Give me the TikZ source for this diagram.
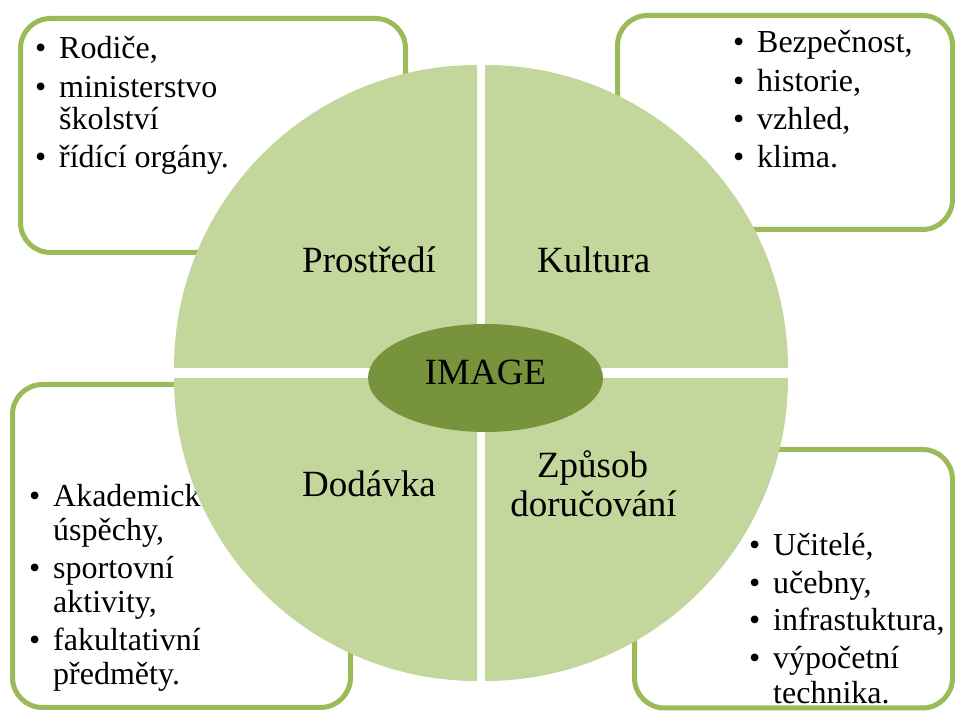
\documentclass[tikz,border=0pt]{standalone}
\usepackage{fontspec}
\setmainfont{Liberation Serif}
\usetikzlibrary{shapes.geometric}
\definecolor{boxgreen}{HTML}{9BBB59}
\definecolor{quadgreen}{HTML}{C3D69B}
\definecolor{hubgreen}{HTML}{77933C}
\newlength\bulind
\setlength\bulind{24pt}
\newlength\itemgap
\newcommand\bfirst[1]{\hbox{\makebox[\bulind][l]{\textbullet}#1}}
\newcommand\bcont[1]{\hbox{\hskip\bulind #1}}
\newcommand\bsep{\vskip\itemgap}
\tikzset{
  infobox/.style={draw=boxgreen, line width=5pt, fill=white, rounded corners=30pt, rectangle, inner sep=0pt},
  listtext/.style={inner sep=0pt, anchor=base west, font=\fontsize{32}{32}\selectfont},
  quad/.style={fill=quadgreen},
  label/.style={inner sep=0pt, font=\fontsize{37}{39}\selectfont},
  hub/.style={ellipse, fill=hubgreen, inner sep=0pt, minimum width=235pt, minimum height=108pt, text height=23pt, text depth=9pt, font=\fontsize{37}{39}\selectfont}
}
\begin{document}
\begin{tikzpicture}[x=1pt,y=1pt]
\useasboundingbox (0,0) rectangle (955,711);
% outer boxes
\node (tlbox) [infobox, minimum width=385pt, minimum height=234pt] at (213,575.5) {};
\node (trbox) [infobox, minimum width=335pt, minimum height=214pt] at (785,588.5) {};
\node (blbox) [infobox, minimum width=338pt, minimum height=323pt] at (181.5,165) {};
\node (brbox) [infobox, minimum width=318pt, minimum height=258.5pt] at (793.5,132.25) {};
% lists
\node (tllist) [listtext] at (35,652) {\vtop{\baselineskip=32pt\setlength\itemgap{6.5pt}%
  \bfirst{Rodiče,}\bsep\bfirst{ministerstvo}\bcont{školství}\bsep\bfirst{řídící orgány.}}};
\node (trlist) [listtext] at (733,658) {\vtop{\baselineskip=32pt\setlength\itemgap{6.3pt}%
  \bfirst{Bezpečnost,}\bsep\bfirst{historie,}\bsep\bfirst{vzhled,}\bsep\bfirst{klima.}}};
\node (bllist) [listtext] at (29,204) {\vtop{\baselineskip=34pt\setlength\itemgap{4pt}%
  \bfirst{Akademické}\bcont{úspěchy,}\bsep\bfirst{sportovní}\bcont{aktivity,}\bsep\bfirst{fakultativní}\bcont{předměty.}}};
\node (brlist) [listtext] at (749,155) {\vtop{\baselineskip=35pt\setlength\itemgap{2.5pt}%
  \bfirst{Učitelé,}\bsep\bfirst{učebny,}\bsep\bfirst{infrastuktura,}\bsep\bfirst{výpočetní}\bcont{technika.}}};
% circle quadrants
\fill[quad] (477,343) -- ++(-303,0) arc[start angle=180, end angle=90, radius=303] -- cycle;
\fill[quad] (485,343) -- ++(0,303) arc[start angle=90, end angle=0, radius=303] -- cycle;
\fill[quad] (485,333) -- ++(303,0) arc[start angle=0, end angle=-90, radius=303] -- cycle;
\fill[quad] (477,333) -- ++(0,-303) arc[start angle=270, end angle=180, radius=303] -- cycle;
% quadrant labels
\node (prostredi) [label, anchor=base west] at (302,438) {Prostředí};
\node (kultura) [label, anchor=base west] at (537,438) {Kultura};
\node (dodavka) [label, anchor=base west] at (302,214) {Dodávka};
\node (zpusob) [label, anchor=base] at (592.5,233) {Způsob};
\node (dorucovani) [label, anchor=base] at (593.5,194) {doručování};
% hub
\node (image) [hub] at (485.5,333) {IMAGE};
\end{tikzpicture}
\end{document}
